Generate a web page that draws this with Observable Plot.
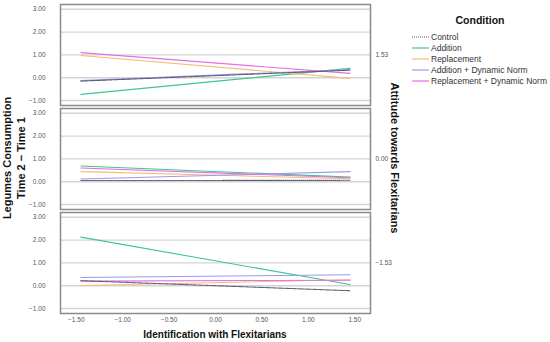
<!DOCTYPE html>
<html>
<head>
<meta charset="utf-8">
<script src="https://cdn.jsdelivr.net/npm/d3@7"></script>
<script src="https://cdn.jsdelivr.net/npm/@observablehq/plot@0.6"></script>
<style>
  html, body { margin: 0; padding: 0; background: #fff; }
  #wrap { position: relative; width: 550px; height: 342px; font-family: "Liberation Sans", Arial, sans-serif; overflow: hidden; }
  #chart { position: absolute; left: 0; top: 0; }
  .t { position: absolute; white-space: nowrap; color: #111; font-weight: bold; }
  .leg { position: absolute; white-space: nowrap; color: #333; font-size: 8.5px; }
</style>
</head>
<body>
<div id="wrap">
  <div id="chart"></div>
  <div class="t" id="ytitle" style="left:14px; top:158px; transform: translate(-50%,-50%) rotate(-90deg); text-align:center; font-size:11px; line-height:14px;">Legumes Consumption<br>Time 2 − Time 1</div>
  <div class="t" id="rtitle" style="left:395px; top:158px; transform: translate(-50%,-50%) rotate(90deg); font-size:11px;">Attitude towards Flexitarians</div>
  <div class="t" id="xtitle" style="left:215px; top:334px; transform: translate(-50%,-50%); font-size:10px;">Identification with Flexitarians</div>
  <div id="legend"></div>
</div>
<script>
// ---- data ----
const conditions = ["Control", "Addition", "Replacement", "Addition + Dynamic Norm", "Replacement + Dynamic Norm"];
const attitudeLevels = [1.53, 0, -1.53];
const identificationX = [-1.45, 1.45];
const xTicks = [-1.5, -1, -0.5, 0, 0.5, 1, 1.5];
const yTicks = [-1, 0, 1, 2, 3];
// [start, end] per attitude level (1.53, 0.00, -1.53)
const controlY     = [[-0.15, 0.33], [0.05, 0.06], [0.22, -0.22]];
const additionY    = [[-0.73, 0.41], [0.69, 0.20], [2.13, 0.05]];
const replacementY = [[0.97, -0.03], [0.44, 0.13], [0.01, 0.26]];
const addDynY      = [[-0.13, 0.36], [0.12, 0.44], [0.36, 0.48]];
const repDynY      = [[1.10, 0.19], [0.60, 0.17], [0.20, 0.24]];
const colors = ["#5a5a6e", "#3fc690", "#f5bd78", "#9a9aec", "#e46ee4"];

const series = [controlY, additionY, replacementY, addDynY, repDynY];
const rows = [];
conditions.forEach((c, ci) => {
  attitudeLevels.forEach((a, ai) => {
    identificationX.forEach((x, xi) => {
      rows.push({cond: c, att: a, x, y: series[ci][ai][xi]});
    });
  });
});

const fmt = d3.format(".2f");
const plot = Plot.plot({
  width: 550,
  height: 342,
  marginLeft: 60,
  marginRight: 180,
  marginTop: 3,
  marginBottom: 29,
  style: {fontFamily: "Liberation Sans, Arial, sans-serif", background: "#fff"},
  x: {domain: [-1.67, 1.67]},
  y: {domain: [-1.22, 3.21]},
  fy: {domain: attitudeLevels, padding: 0.03},
  color: {domain: conditions, range: colors},
  marks: [
    Plot.gridY(yTicks, {stroke: "#d4d4d4", strokeOpacity: 1, strokeWidth: 1.4}),
    Plot.line(rows.filter(d => d.cond !== "Control"), {x: "x", y: "y", fy: "att", z: "cond", stroke: "cond", strokeWidth: 1.1}),
    Plot.line(rows.filter(d => d.cond === "Control"), {x: "x", y: "y", fy: "att", z: "cond", stroke: "cond", strokeWidth: 1.1, strokeDasharray: "1,1"}),
    Plot.frame({stroke: "#8a8a8a", strokeWidth: 1.5}),
    Plot.axisY(yTicks, {tickSize: 0, tickPadding: 15, tickFormat: fmt, fontSize: 6.5, fill: "#555", label: null}),
    Plot.axisX(xTicks, {tickSize: 0, tickPadding: 4, tickFormat: fmt, fontSize: 6.5, fill: "#555", label: null}),
    Plot.axisFy({anchor: "right", tickSize: 0, tickPadding: 5, tickFormat: fmt, fontSize: 6.5, fill: "#555", label: null})
  ]
});
document.getElementById("chart").appendChild(plot);

// ---- legend ----
const legend = document.getElementById("legend");
const title = document.createElement("div");
title.className = "t";
title.textContent = "Condition";
title.style.cssText = "left:480px; top:20px; transform:translate(-50%,-50%); font-size:10.5px;";
legend.appendChild(title);
conditions.forEach((c, i) => {
  const y = 37 + i * 11;
  const sw = document.createElementNS("http://www.w3.org/2000/svg", "svg");
  sw.setAttribute("width", 17); sw.setAttribute("height", 4);
  sw.style.cssText = `position:absolute; left:412px; top:${y - 2}px;`;
  const ln = document.createElementNS("http://www.w3.org/2000/svg", "line");
  ln.setAttribute("x1", 0); ln.setAttribute("x2", 17); ln.setAttribute("y1", 2); ln.setAttribute("y2", 2);
  ln.setAttribute("stroke", colors[i]); ln.setAttribute("stroke-width", 1.2);
  if (c === "Control") ln.setAttribute("stroke-dasharray", "1,1");
  sw.appendChild(ln);
  legend.appendChild(sw);
  const lab = document.createElement("div");
  lab.className = "leg";
  lab.textContent = c;
  lab.style.cssText = `left:431px; top:${y}px; transform:translateY(-50%);`;
  legend.appendChild(lab);
});
</script>
</body>
</html>
